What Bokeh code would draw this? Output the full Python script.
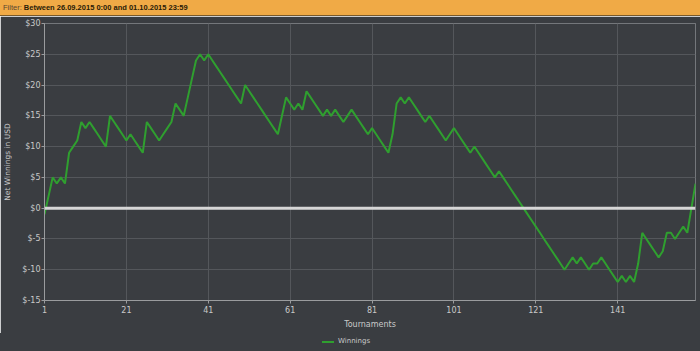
from bokeh.plotting import figure
from bokeh.models import (Div, Span, FixedTicker,
                          PrintfTickFormatter, Range1d, ColumnDataSource)
from bokeh.layouts import column
from bokeh.embed import file_html
from bokeh.resources import INLINE

# ---- data ----
tournaments = list(range(1, 161))
winnings = [
    -1, 2, 5, 4, 5, 4, 9, 10, 11, 14,
    13, 14, 13, 12, 11, 10, 15, 14, 13, 12,
    11, 12, 11, 10, 9, 14, 13, 12, 11, 12,
    13, 14, 17, 16, 15, 18, 21, 24, 25, 24,
    25, 24, 23, 22, 21, 20, 19, 18, 17, 20,
    19, 18, 17, 16, 15, 14, 13, 12, 15, 18,
    17, 16, 17, 16, 19, 18, 17, 16, 15, 16,
    15, 16, 15, 14, 15, 16, 15, 14, 13, 12,
    13, 12, 11, 10, 9, 12, 17, 18, 17, 18,
    17, 16, 15, 14, 15, 14, 13, 12, 11, 12,
    13, 12, 11, 10, 9, 10, 9, 8, 7, 6,
    5, 6, 5, 4, 3, 2, 1, 0, -1, -2,
    -3, -4, -5, -6, -7, -8, -9, -10, -9, -8,
    -9, -8, -9, -10, -9, -9, -8, -9, -10, -11,
    -12, -11, -12, -11, -12, -9, -4, -5, -6, -7,
    -8, -7, -4, -4, -5, -4, -3, -4, 0, 4,
]
x_ticks = [1, 21, 41, 61, 81, 101, 121, 141]
y_ticks = [-15, -10, -5, 0, 5, 10, 15, 20, 25, 30]
filter_text = "Between 26.09.2015 0:00 and 01.10.2015 23:59"
series_name = "Winnings"

BG = "#3a3d41"
TXT = "#c9c9c9"
FONT = "DejaVu Sans"
GREEN = "#2f9f2f"

div = Div(
    text=('<div style="padding-left:3px;line-height:15px;white-space:nowrap;">'
          '<span style="font-weight:normal;color:#5a4630">Filter:</span> '
          + filter_text + '</div>'),
    width=700, height=16, margin=(0, 0, 0, 0),
    styles={
        "background": "linear-gradient(#f0aa46 0px, #f0aa46 15px, #7a5a2a 15px, #7a5a2a 16px)",
        "font-family": "Liberation Sans, Arial, sans-serif",
        "font-size": "7.5px",
        "font-weight": "bold",
        "color": "#2a1c08",
        "overflow": "hidden",
    },
)

p = figure(width=700, height=317, output_backend="svg", toolbar_location=None,
           x_range=Range1d(1, 160), y_range=Range1d(-15, 30),
           min_border_left=42, min_border_right=5, min_border_top=7,
           min_border_bottom=33, margin=(0, 0, 0, 0))
p.background_fill_color = BG
p.border_fill_color = BG
p.outline_line_color = "#74777b"
p.outline_line_width = 1

src = ColumnDataSource(dict(x=tournaments, y=winnings))

zero = Span(location=0, dimension="width", line_color="#d6d6d6", line_width=3)
p.add_layout(zero)

r = p.line("x", "y", source=src, line_color=GREEN, line_width=2)

for g in (p.xgrid[0], p.ygrid[0]):
    g.grid_line_color = "#54575b"
    g.grid_line_width = 1
p.xgrid[0].ticker = FixedTicker(ticks=x_ticks)
p.ygrid[0].ticker = FixedTicker(ticks=y_ticks)

xa = p.xaxis[0]
xa.ticker = FixedTicker(ticks=x_ticks)
xa.axis_label = "Tournaments"
ya = p.yaxis[0]
ya.ticker = FixedTicker(ticks=y_ticks)
ya.formatter = PrintfTickFormatter(format="$%d")
ya.axis_label = "Net Winnings in USD"

for ax in (xa, ya):
    ax.axis_line_color = "#9a9c9e"
    ax.major_tick_line_color = "#9a9c9e"
    ax.major_tick_out = 3
    ax.major_tick_in = 0
    ax.minor_tick_line_color = None
    ax.major_label_text_color = TXT
    ax.major_label_text_font = FONT
    ax.major_label_text_font_size = "8px"
    ax.axis_label_text_color = TXT
    ax.axis_label_text_font = FONT
    ax.axis_label_text_font_style = "normal"
    ax.major_label_standoff = 2
xa.axis_label_text_font_size = "8px"
xa.axis_label_standoff = 4
ya.axis_label_text_font_size = "7.5px"
ya.axis_label_standoff = 7
ya.major_label_standoff = 1

legend_div = Div(
    text=('<div style="position:relative;width:700px;height:18px;">'
          '<span style="position:absolute;left:322px;top:8px;width:12px;height:2px;'
          'background:' + GREEN + ';"></span>'
          '<span style="position:absolute;left:338px;top:4px;font-family:DejaVu Sans;'
          'font-size:7px;line-height:9px;color:' + TXT + ';white-space:nowrap;">'
          + series_name + '</span></div>'),
    width=700, height=18, margin=(0, 0, 0, 0),
    styles={"background-color": BG, "overflow": "hidden"},
)

layout = column(div, p, legend_div, spacing=0)
open("out.html", "w").write(file_html(layout, INLINE))
